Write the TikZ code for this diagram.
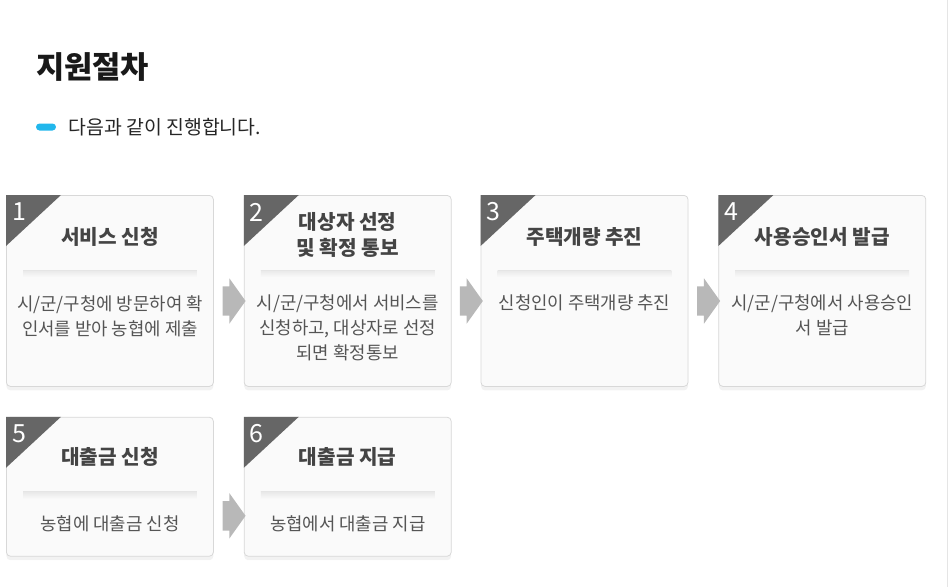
\documentclass[tikz,border=0pt]{standalone}
\usepackage{fontspec}
\setmainfont{Noto Sans CJK KR}
\usetikzlibrary{positioning,calc,shapes.arrows,shadows}
\definecolor{boxfill}{RGB}{250,250,250}
\definecolor{boxline}{RGB}{216,216,216}
\definecolor{cornergray}{RGB}{102,102,102}
\definecolor{textgray}{RGB}{85,85,85}
\definecolor{titlegray}{RGB}{68,68,68}
\definecolor{arrowgray}{RGB}{184,184,184}
\definecolor{barblue}{RGB}{34,183,236}
\tikzset{
  stepbox/.style={draw=boxline, fill=boxfill, rounded corners=4pt, line width=0.8pt,
    minimum width=207pt, inner sep=0pt, anchor=north west,
    drop shadow={shadow xshift=0pt, shadow yshift=-4pt, opacity=0.10}},
  stepnum/.style={text=white, inner sep=0pt, font=\fontsize{25}{27}\selectfont},
  steptitle/.style={text=titlegray, align=center, inner sep=0pt,
    font=\bfseries\fontsize{20.2}{26}\selectfont},
  steptext/.style={text=textgray, align=center, inner sep=0pt, anchor=north,
    font=\fontsize{17.8}{25}\selectfont},
  flowarrow/.style={shape=single arrow, fill=arrowgray, draw=none, inner xsep=0pt,
    inner ysep=14.5pt, minimum height=23pt, single arrow head extend=8pt,
    single arrow tip angle=109}
}
% corner, rule and arrow of one step
\newcommand{\stepdeco}[2]{%
  \fill[cornergray] (#1.north west) -- ++(55,0) -- ++(-55,51) -- cycle;
  \node[stepnum] at ($(#1.north west)+(13,17)$) {#2};
  \shade[top color=black!9, bottom color=boxfill]
    ($(#1.north west)+(17,75)$) rectangle ($(#1.north east)+(-17,82)$);
  \draw[black!10, line width=0.8pt] ($(#1.north west)+(17,75)$) -- ($(#1.north east)+(-17,75)$);
}

\begin{document}
\begin{tikzpicture}[x=1pt,y=-1pt]
\useasboundingbox (0,0) rectangle (951,587);
% page edge
\draw[black!10] (947,0) -- (947,587);

% heading
\node[anchor=west, inner sep=0pt, text=black!90, font=\bfseries\fontsize{30.7}{33}\selectfont]
  (heading) at (36,67) {지원절차};
\node[fill=barblue, rounded corners=3.5pt, minimum width=20pt, minimum height=7pt, inner sep=0pt]
  (bar) at (46,127) {};
\node[right=12pt of bar, inner sep=0pt, text=black!85, font=\fontsize{19.4}{22}\selectfont]
  (intro) {다음과 같이 진행합니다.};

% first row
\node[stepbox, minimum height=191pt] (s1) at (6,195) {};
\node[stepbox, minimum height=191pt, right=30pt of s1.north east, anchor=north west] (s2) {};
\node[stepbox, minimum height=191pt, right=29pt of s2.north east, anchor=north west] (s3) {};
\node[stepbox, minimum height=191pt, right=30pt of s3.north east, anchor=north west] (s4) {};
% second row
\node[stepbox, minimum height=139pt, below=30pt of s1.south west, anchor=north west] (s5) {};
\node[stepbox, minimum height=139pt, right=30pt of s5.north east, anchor=north west] (s6) {};

\stepdeco{s1}{1}
\stepdeco{s2}{2}
\stepdeco{s3}{3}
\stepdeco{s4}{4}
\stepdeco{s5}{5}
\stepdeco{s6}{6}

% titles
\node[steptitle] (t1) at ($(s1.north)+(0,42)$) {서비스 신청};
\node[steptitle] (t2) at ($(s2.north)+(0,40)$) {대상자 선정\\및 확정 통보};
\node[steptitle] (t3) at ($(s3.north)+(0,42)$) {주택개량 추진};
\node[steptitle] (t4) at ($(s4.north)+(0,42)$) {사용승인서 발급};
\node[steptitle] (t5) at ($(s5.north)+(0,40)$) {대출금 신청};
\node[steptitle] (t6) at ($(s6.north)+(0,40)$) {대출금 지급};

% texts
\node[steptext] (d1) at ($(s1.north)+(0,100)$) {시/군/구청에 방문하여 확\\인서를 받아 농협에 제출};
\node[steptext] (d2) at ($(s2.north)+(0,100)$) {시/군/구청에서 서비스를\\신청하고, 대상자로 선정\\되면 확정통보};
\node[steptext] (d3) at ($(s3.north)+(0,100)$) {신청인이 주택개량 추진};
\node[steptext] (d4) at ($(s4.north)+(0,100)$) {시/군/구청에서 사용승인\\서 발급};
\node[steptext] (d5) at ($(s5.north)+(0,99)$) {농협에 대출금 신청};
\node[steptext] (d6) at ($(s6.north)+(0,99)$) {농협에서 대출금 지급};

% arrows between steps
\node[flowarrow] (a12) at ($(s1.north east)!0.5!(s2.north west)+(0,106)$) {};
\node[flowarrow] (a23) at ($(s2.north east)!0.5!(s3.north west)+(0,106)$) {};
\node[flowarrow] (a34) at ($(s3.north east)!0.5!(s4.north west)+(0,106)$) {};
\node[flowarrow] (a56) at ($(s5.north east)!0.5!(s6.north west)+(0,99)$) {};
\end{tikzpicture}
\end{document}
